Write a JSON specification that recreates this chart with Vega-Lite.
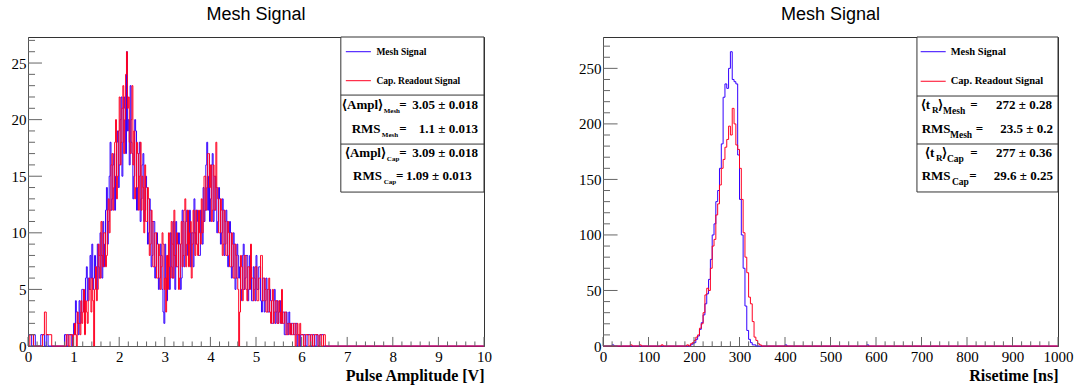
{
"$schema":"https://vega.github.io/schema/vega-lite/v6.json",
"background":"white",
"padding":{"left":10,"top":5,"right":5,"bottom":5},
"spacing":86,
"config":{
 "view":{"stroke":"#333","strokeWidth":1},
 "title":{"font":"Liberation Sans","fontSize":18,"fontWeight":"normal","color":"#000","anchor":"middle","offset":13},
 "axis":{"grid":false,"ticks":false,"labelFont":"Liberation Serif","labelFontSize":15,"labelColor":"#000","domainColor":"#555","titleFont":"Liberation Serif","titleFontWeight":"bold","titleFontSize":16,"titleColor":"#000","labelFlush":false,"labelOverlap":false,"labelPadding":2},
 "text":{"font":"Liberation Serif","fontWeight":"bold","fontSize":13,"baseline":"middle","align":"left","color":"#000"},
 "rule":{"color":"#333","strokeWidth":1}
},
"datasets":{
"lxmaj":[{"v":0},{"v":1},{"v":2},{"v":3},{"v":4},{"v":5},{"v":6},{"v":7},{"v":8},{"v":9},{"v":10}],
"lxmin":[{"v":0.2},{"v":0.4},{"v":0.6},{"v":0.8},{"v":1.2},{"v":1.4},{"v":1.6},{"v":1.8},{"v":2.2},{"v":2.4},{"v":2.6},{"v":2.8},{"v":3.2},{"v":3.4},{"v":3.6},{"v":3.8},{"v":4.2},{"v":4.4},{"v":4.6},{"v":4.8},{"v":5.2},{"v":5.4},{"v":5.6},{"v":5.8},{"v":6.2},{"v":6.4},{"v":6.6},{"v":6.8},{"v":7.2},{"v":7.4},{"v":7.6},{"v":7.8},{"v":8.2},{"v":8.4},{"v":8.6},{"v":8.8},{"v":9.2},{"v":9.4},{"v":9.6},{"v":9.8}],
"lymaj":[{"v":0},{"v":5},{"v":10},{"v":15},{"v":20},{"v":25}],
"lymin":[{"v":1},{"v":2},{"v":3},{"v":4},{"v":6},{"v":7},{"v":8},{"v":9},{"v":11},{"v":12},{"v":13},{"v":14},{"v":16},{"v":17},{"v":18},{"v":19},{"v":21},{"v":22},{"v":23},{"v":24},{"v":26},{"v":27}],
"rxmaj":[{"v":0},{"v":100},{"v":200},{"v":300},{"v":400},{"v":500},{"v":600},{"v":700},{"v":800},{"v":900},{"v":1000}],
"rxmin":[{"v":20},{"v":40},{"v":60},{"v":80},{"v":120},{"v":140},{"v":160},{"v":180},{"v":220},{"v":240},{"v":260},{"v":280},{"v":320},{"v":340},{"v":360},{"v":380},{"v":420},{"v":440},{"v":460},{"v":480},{"v":520},{"v":540},{"v":560},{"v":580},{"v":620},{"v":640},{"v":660},{"v":680},{"v":720},{"v":740},{"v":760},{"v":780},{"v":820},{"v":840},{"v":860},{"v":880},{"v":920},{"v":940},{"v":960},{"v":980}],
"rymaj":[{"v":0},{"v":50},{"v":100},{"v":150},{"v":200},{"v":250}],
"rymin":[{"v":10},{"v":20},{"v":30},{"v":40},{"v":60},{"v":70},{"v":80},{"v":90},{"v":110},{"v":120},{"v":130},{"v":140},{"v":160},{"v":170},{"v":180},{"v":190},{"v":210},{"v":220},{"v":230},{"v":240},{"v":260},{"v":270}],
"amp":[
{"x":0,"m":1,"c":0},{"x":0.04,"m":1,"c":1},{"x":0.08,"m":0,"c":1},{"x":0.12,"m":1,"c":0},{"x":0.16,"m":0,"c":0},{"x":0.2,"m":0,"c":0},{"x":0.24,"m":0,"c":0},{"x":0.28,"m":1,"c":0},{"x":0.32,"m":1,"c":1},{"x":0.36,"m":0,"c":3},
{"x":0.4,"m":1,"c":1},{"x":0.44,"m":0,"c":1},{"x":0.48,"m":0,"c":1},{"x":0.52,"m":0,"c":0},{"x":0.8,"m":1,"c":0},{"x":0.84,"m":0,"c":1},{"x":0.88,"m":1,"c":0},{"x":0.92,"m":1,"c":1},
{"x":0.96,"m":0,"c":1},{"x":0.98,"m":1,"c":0},{"x":1,"m":2,"c":1},{"x":1.02,"m":1,"c":2},{"x":1.04,"m":4,"c":1},{"x":1.06,"m":3,"c":0},{"x":1.08,"m":2,"c":3},{"x":1.1,"m":1,"c":2},{"x":1.12,"m":4,"c":2},{"x":1.14,"m":2,"c":1},
{"x":1.16,"m":3,"c":4},{"x":1.18,"m":5,"c":2},{"x":1.2,"m":5,"c":3},{"x":1.22,"m":3,"c":5},{"x":1.24,"m":4,"c":1},{"x":1.26,"m":6,"c":4},{"x":1.28,"m":7,"c":3},{"x":1.3,"m":4,"c":2},{"x":1.32,"m":6,"c":4},{"x":1.34,"m":5,"c":6},
{"x":1.36,"m":8,"c":5},{"x":1.38,"m":6,"c":3},{"x":1.4,"m":9,"c":6},{"x":1.42,"m":5,"c":4},{"x":1.44,"m":6,"c":0},{"x":1.46,"m":8,"c":5},{"x":1.48,"m":7,"c":7},{"x":1.5,"m":5,"c":4},{"x":1.52,"m":9,"c":5},{"x":1.54,"m":7,"c":9},
{"x":1.56,"m":6,"c":8},{"x":1.58,"m":10,"c":6},{"x":1.6,"m":8,"c":11},{"x":1.62,"m":6,"c":8},{"x":1.64,"m":11,"c":7},{"x":1.66,"m":7,"c":10},{"x":1.68,"m":9,"c":10},{"x":1.7,"m":12,"c":7},{"x":1.72,"m":14,"c":8},{"x":1.74,"m":9,"c":12},
{"x":1.76,"m":11,"c":13},{"x":1.78,"m":15,"c":10},{"x":1.8,"m":18,"c":12},{"x":1.82,"m":12,"c":16},{"x":1.84,"m":13,"c":17},{"x":1.86,"m":16,"c":12},{"x":1.88,"m":17,"c":14},{"x":1.9,"m":12,"c":18},{"x":1.92,"m":15,"c":20},{"x":1.94,"m":18,"c":13},
{"x":1.96,"m":19,"c":15},{"x":1.98,"m":14,"c":19},{"x":2,"m":16,"c":22},{"x":2.02,"m":20,"c":16},{"x":2.04,"m":22,"c":18},{"x":2.06,"m":15,"c":21},{"x":2.08,"m":18,"c":23},{"x":2.1,"m":22,"c":17},{"x":2.12,"m":21,"c":20},{"x":2.14,"m":17,"c":24},
{"x":2.16,"m":26,"c":26},{"x":2.18,"m":19,"c":21},{"x":2.2,"m":20,"c":22},{"x":2.22,"m":16,"c":18},{"x":2.24,"m":23,"c":17},{"x":2.26,"m":18,"c":20},{"x":2.28,"m":17,"c":23},{"x":2.3,"m":13,"c":16},{"x":2.32,"m":15,"c":19},{"x":2.34,"m":20,"c":13},
{"x":2.36,"m":19,"c":14},{"x":2.38,"m":12,"c":18},{"x":2.4,"m":14,"c":17},{"x":2.42,"m":17,"c":12},{"x":2.44,"m":18,"c":15},{"x":2.46,"m":11,"c":18},{"x":2.48,"m":13,"c":12},{"x":2.5,"m":16,"c":15},{"x":2.52,"m":17,"c":14},{"x":2.54,"m":11,"c":10},
{"x":2.56,"m":12,"c":16},{"x":2.58,"m":15,"c":11},{"x":2.6,"m":14,"c":11},{"x":2.62,"m":9,"c":14},{"x":2.64,"m":10,"c":13},{"x":2.66,"m":13,"c":8},{"x":2.68,"m":12,"c":9},{"x":2.7,"m":7,"c":12},{"x":2.72,"m":8,"c":11},{"x":2.74,"m":11,"c":7},
{"x":2.76,"m":11,"c":7},{"x":2.78,"m":6,"c":10},{"x":2.8,"m":7,"c":10},{"x":2.82,"m":10,"c":6},{"x":2.84,"m":9,"c":6},{"x":2.86,"m":5,"c":9},{"x":2.88,"m":6,"c":8},{"x":2.9,"m":9,"c":5},{"x":2.92,"m":8,"c":7},{"x":2.94,"m":5,"c":10},
{"x":2.96,"m":3,"c":9},{"x":2.98,"m":2,"c":5},{"x":3,"m":9,"c":6},{"x":3.02,"m":6,"c":3},{"x":3.04,"m":4,"c":8},{"x":3.06,"m":8,"c":5},{"x":3.08,"m":7,"c":10},{"x":3.1,"m":5,"c":7},{"x":3.12,"m":10,"c":6},{"x":3.14,"m":7,"c":11},
{"x":3.16,"m":6,"c":9},{"x":3.18,"m":11,"c":6},{"x":3.2,"m":8,"c":12},{"x":3.22,"m":5,"c":8},{"x":3.24,"m":11,"c":7},{"x":3.26,"m":7,"c":10},{"x":3.28,"m":7,"c":9},{"x":3.3,"m":10,"c":5},{"x":3.32,"m":9,"c":6},{"x":3.34,"m":5,"c":9},
{"x":3.36,"m":6,"c":11},{"x":3.38,"m":12,"c":7},{"x":3.4,"m":11,"c":8},{"x":3.42,"m":7,"c":12},{"x":3.44,"m":8,"c":13},{"x":3.46,"m":11,"c":7},{"x":3.48,"m":12,"c":9},{"x":3.5,"m":8,"c":12},{"x":3.52,"m":9,"c":7},{"x":3.54,"m":12,"c":10},
{"x":3.56,"m":7,"c":11},{"x":3.58,"m":10,"c":6},{"x":3.6,"m":10,"c":9},{"x":3.62,"m":7,"c":12},{"x":3.64,"m":13,"c":10},{"x":3.66,"m":10,"c":8},{"x":3.68,"m":9,"c":12},{"x":3.7,"m":12,"c":9},{"x":3.72,"m":11,"c":8},{"x":3.74,"m":8,"c":12},
{"x":3.76,"m":8,"c":10},{"x":3.78,"m":12,"c":9},{"x":3.8,"m":10,"c":13},{"x":3.82,"m":9,"c":10},{"x":3.84,"m":14,"c":11},{"x":3.86,"m":11,"c":15},{"x":3.88,"m":12,"c":15},{"x":3.9,"m":16,"c":12},{"x":3.92,"m":18,"c":14},{"x":3.94,"m":12,"c":17},
{"x":3.96,"m":15,"c":17},{"x":3.98,"m":11,"c":14},{"x":4,"m":13,"c":16},{"x":4.02,"m":16,"c":11},{"x":4.04,"m":17,"c":12},{"x":4.06,"m":11,"c":16},{"x":4.08,"m":12,"c":15},{"x":4.1,"m":15,"c":12},{"x":4.12,"m":14,"c":18},{"x":4.14,"m":10,"c":14},
{"x":4.16,"m":11,"c":13},{"x":4.18,"m":14,"c":10},{"x":4.2,"m":13,"c":10},{"x":4.22,"m":9,"c":13},{"x":4.24,"m":10,"c":12},{"x":4.26,"m":13,"c":8},{"x":4.28,"m":12,"c":9},{"x":4.3,"m":8,"c":12},{"x":4.32,"m":9,"c":11},{"x":4.34,"m":12,"c":8},
{"x":4.36,"m":11,"c":8},{"x":4.38,"m":7,"c":11},{"x":4.4,"m":8,"c":10},{"x":4.42,"m":11,"c":7},{"x":4.44,"m":10,"c":7},{"x":4.46,"m":6,"c":10},{"x":4.48,"m":7,"c":9},{"x":4.5,"m":10,"c":6},{"x":4.52,"m":9,"c":6},{"x":4.54,"m":5,"c":9},
{"x":4.56,"m":6,"c":8},{"x":4.58,"m":9,"c":6},{"x":4.6,"m":8,"c":5},{"x":4.62,"m":6,"c":0},{"x":4.64,"m":7,"c":3},{"x":4.66,"m":4,"c":8},{"x":4.68,"m":5,"c":7},{"x":4.7,"m":8,"c":4},{"x":4.72,"m":9,"c":5},{"x":4.74,"m":5,"c":8},
{"x":4.76,"m":6,"c":8},{"x":4.78,"m":8,"c":5},{"x":4.8,"m":8,"c":4},{"x":4.82,"m":4,"c":7},{"x":4.84,"m":5,"c":7},{"x":4.86,"m":8,"c":5},{"x":4.88,"m":7,"c":9},{"x":4.9,"m":4,"c":6},{"x":4.92,"m":4,"c":6},{"x":4.94,"m":7,"c":4},
{"x":4.96,"m":6,"c":5},{"x":4.98,"m":4,"c":7},{"x":5,"m":8,"c":7},{"x":5.02,"m":5,"c":4},{"x":5.04,"m":5,"c":4},{"x":5.06,"m":7,"c":6},{"x":5.08,"m":7,"c":6},{"x":5.1,"m":4,"c":8},{"x":5.12,"m":3,"c":8},{"x":5.14,"m":6,"c":4},
{"x":5.16,"m":6,"c":4},{"x":5.18,"m":3,"c":6},{"x":5.2,"m":4,"c":5},{"x":5.22,"m":6,"c":3},{"x":5.24,"m":5,"c":3},{"x":5.26,"m":3,"c":5},{"x":5.28,"m":3,"c":6},{"x":5.3,"m":5,"c":3},{"x":5.32,"m":4,"c":2},{"x":5.34,"m":2,"c":4},
{"x":5.36,"m":2,"c":5},{"x":5.38,"m":4,"c":2},{"x":5.4,"m":5,"c":3},{"x":5.42,"m":2,"c":4},{"x":5.44,"m":3,"c":4},{"x":5.46,"m":4,"c":2},{"x":5.48,"m":2,"c":2},{"x":5.5,"m":3,"c":4},{"x":5.52,"m":4,"c":3},{"x":5.54,"m":2,"c":2},
{"x":5.56,"m":2,"c":5},{"x":5.58,"m":3,"c":2},{"x":5.6,"m":3,"c":2},{"x":5.62,"m":1,"c":3},{"x":5.64,"m":1,"c":3},{"x":5.66,"m":3,"c":1},{"x":5.68,"m":2,"c":1},{"x":5.7,"m":1,"c":2},{"x":5.72,"m":3,"c":2},{"x":5.74,"m":2,"c":1},
{"x":5.76,"m":1,"c":2},{"x":5.78,"m":2,"c":1},{"x":5.8,"m":2,"c":1},{"x":5.82,"m":1,"c":2},{"x":5.84,"m":1,"c":2},{"x":5.86,"m":2,"c":0},{"x":5.88,"m":2,"c":1},{"x":5.9,"m":0,"c":2},{"x":5.92,"m":1,"c":1},{"x":5.94,"m":1,"c":0},
{"x":5.96,"m":0,"c":2},{"x":5.98,"m":1,"c":1},{"x":6,"m":1,"c":1},{"x":6.04,"m":1,"c":0},{"x":6.08,"m":0,"c":1},{"x":6.12,"m":1,"c":1},{"x":6.16,"m":1,"c":0},{"x":6.2,"m":0,"c":1},{"x":6.24,"m":1,"c":0},{"x":6.28,"m":0,"c":1},
{"x":6.32,"m":1,"c":1},{"x":6.36,"m":0,"c":0},{"x":6.4,"m":1,"c":1},{"x":6.44,"m":1,"c":0},{"x":6.48,"m":0,"c":1},{"x":6.52,"m":0,"c":0},{"x":10,"m":0,"c":0}
],
"rise":[
{"x":0,"m":0,"c":0},{"x":20,"m":1,"c":0},{"x":24,"m":0,"c":0},{"x":60,"m":0,"c":1},{"x":64,"m":0,"c":0},{"x":80,"m":0,"c":1},{"x":84,"m":0,"c":0},{"x":128,"m":0,"c":1},{"x":132,"m":0,"c":0},
{"x":184,"m":0,"c":1},{"x":188,"m":0,"c":0},{"x":192,"m":1,"c":2},{"x":196,"m":2,"c":3},{"x":200,"m":3,"c":5},{"x":204,"m":6,"c":8},{"x":208,"m":9,"c":10},{"x":212,"m":15,"c":16},{"x":216,"m":21,"c":20},{"x":220,"m":28,"c":30},
{"x":224,"m":38,"c":46},{"x":228,"m":47,"c":52},{"x":232,"m":60,"c":50},{"x":236,"m":78,"c":70},{"x":240,"m":100,"c":90},{"x":244,"m":110,"c":96},{"x":248,"m":130,"c":118},{"x":252,"m":140,"c":128},{"x":256,"m":160,"c":145},{"x":260,"m":182,"c":160},
{"x":264,"m":224,"c":168},{"x":268,"m":236,"c":179},{"x":272,"m":232,"c":186},{"x":276,"m":250,"c":198},{"x":280,"m":265,"c":190},{"x":284,"m":240,"c":214},{"x":288,"m":238,"c":200},{"x":292,"m":236,"c":181},{"x":296,"m":172,"c":177},{"x":300,"m":132,"c":160},
{"x":304,"m":100,"c":132},{"x":308,"m":70,"c":102},{"x":312,"m":36,"c":80},{"x":316,"m":14,"c":66},{"x":320,"m":6,"c":44},{"x":324,"m":3,"c":38},{"x":328,"m":1,"c":22},{"x":332,"m":1,"c":8},{"x":336,"m":0,"c":5},{"x":340,"m":0,"c":2},
{"x":344,"m":0,"c":1},{"x":348,"m":0,"c":0},{"x":400,"m":1,"c":0},{"x":404,"m":0,"c":0},{"x":580,"m":1,"c":0},{"x":584,"m":0,"c":0},{"x":1000,"m":0,"c":0}
]
},
"hconcat":[
{
 "width":456,"height":309,
 "title":"Mesh Signal",
 "layer":[
  {"data":{"name":"amp"},"mark":{"type":"line","interpolate":"step-after","color":"#3300ff","strokeWidth":1},
   "encoding":{
    "x":{"field":"x","type":"quantitative","scale":{"domain":[0,10],"nice":false,"zero":false},
     "axis":{"title":"Pulse Amplitude [V]","titleAnchor":"end","format":"d","values":[0,1,2,3,4,5,6,7,8,9,10],"labelPadding":3,"titlePadding":3}},
    "y":{"field":"m","type":"quantitative","scale":{"domain":[0,27.3],"nice":false},
     "axis":{"title":null,"values":[0,5,10,15,20,25]}}}},
  {"data":{"name":"amp"},"mark":{"type":"line","interpolate":"step-after","color":"#ff0022","strokeWidth":1},
   "encoding":{"x":{"field":"x","type":"quantitative"},"y":{"field":"c","type":"quantitative"}}},
  {"data":{"name":"lxmaj"},"mark":{"type":"rule","color":"#666"},"encoding":{"x":{"field":"v","type":"quantitative"},"y":{"datum":0},"y2":{"datum":0.8}}},
  {"data":{"name":"lxmin"},"mark":{"type":"rule","color":"#666"},"encoding":{"x":{"field":"v","type":"quantitative"},"y":{"datum":0},"y2":{"datum":0.4}}},
  {"data":{"name":"lymaj"},"mark":{"type":"rule","color":"#666"},"encoding":{"y":{"field":"v","type":"quantitative"},"x":{"datum":0},"x2":{"datum":0.307}}},
  {"data":{"name":"lymin"},"mark":{"type":"rule","color":"#666"},"encoding":{"y":{"field":"v","type":"quantitative"},"x":{"datum":0},"x2":{"datum":0.154}}},
  {"data":{"values":[{}]},"mark":{"type":"rect","fill":"white","stroke":"#333","strokeWidth":1},
   "encoding":{"x":{"datum":6.86},"x2":{"datum":10},"y":{"datum":13.6},"y2":{"datum":27.3}}},
  {"data":{"values":[{}]},"mark":{"type":"rule"},"encoding":{"x":{"datum":6.86},"x2":{"datum":10},"y":{"datum":22.17}}},
  {"data":{"values":[{}]},"mark":{"type":"rule"},"encoding":{"x":{"datum":6.86},"x2":{"datum":10},"y":{"datum":17.84}}},
  {"data":{"values":[{}]},"mark":{"type":"rule","color":"#3300ff"},"encoding":{"x":{"datum":6.97},"x2":{"datum":7.52},"y":{"datum":26.0}}},
  {"data":{"values":[{}]},"mark":{"type":"rule","color":"#ff0022"},"encoding":{"x":{"datum":6.97},"x2":{"datum":7.52},"y":{"datum":23.44}}},
  {"data":{"values":[{}]},"mark":{"type":"text","text":"Mesh Signal","fontSize":9.5},"encoding":{"x":{"datum":7.64},"y":{"datum":26.0}}},
  {"data":{"values":[{}]},"mark":{"type":"text","text":"Cap. Readout Signal","fontSize":9.5},"encoding":{"x":{"datum":7.64},"y":{"datum":23.44}}},
  {"data":{"values":[{}]},"mark":{"type":"text","text":"⟨Ampl⟩"},"encoding":{"x":{"datum":6.886},"y":{"datum":21.29}}},
  {"data":{"values":[{}]},"mark":{"type":"text","text":"Mesh","fontSize":7,"dy":6},"encoding":{"x":{"datum":7.8},"y":{"datum":21.29}}},
  {"data":{"values":[{}]},"mark":{"type":"text","text":"=","align":"center"},"encoding":{"x":{"datum":8.22},"y":{"datum":21.29}}},
  {"data":{"values":[{}]},"mark":{"type":"text","text":"3.05 ± 0.018","align":"right"},"encoding":{"x":{"datum":9.868},"y":{"datum":21.29}}},
  {"data":{"values":[{}]},"mark":{"type":"text","text":"RMS"},"encoding":{"x":{"datum":7.099},"y":{"datum":19.17}}},
  {"data":{"values":[{}]},"mark":{"type":"text","text":"Mesh","fontSize":7,"dy":6},"encoding":{"x":{"datum":7.76},"y":{"datum":19.17}}},
  {"data":{"values":[{}]},"mark":{"type":"text","text":"=","align":"center"},"encoding":{"x":{"datum":8.224},"y":{"datum":19.17}}},
  {"data":{"values":[{}]},"mark":{"type":"text","text":"1.1 ± 0.013","align":"right"},"encoding":{"x":{"datum":9.868},"y":{"datum":19.17}}},
  {"data":{"values":[{}]},"mark":{"type":"text","text":"⟨Ampl⟩"},"encoding":{"x":{"datum":6.95},"y":{"datum":17.05}}},
  {"data":{"values":[{}]},"mark":{"type":"text","text":"Cap","fontSize":7,"dy":6},"encoding":{"x":{"datum":7.87},"y":{"datum":17.05}}},
  {"data":{"values":[{}]},"mark":{"type":"text","text":"=","align":"center"},"encoding":{"x":{"datum":8.224},"y":{"datum":17.05}}},
  {"data":{"values":[{}]},"mark":{"type":"text","text":"3.09 ± 0.018","align":"right"},"encoding":{"x":{"datum":9.868},"y":{"datum":17.05}}},
  {"data":{"values":[{}]},"mark":{"type":"text","text":"RMS"},"encoding":{"x":{"datum":7.127},"y":{"datum":15.04}}},
  {"data":{"values":[{}]},"mark":{"type":"text","text":"Cap","fontSize":7,"dy":6},"encoding":{"x":{"datum":7.8},"y":{"datum":15.04}}},
  {"data":{"values":[{}]},"mark":{"type":"text","text":"=","align":"center"},"encoding":{"x":{"datum":8.15},"y":{"datum":15.04}}},
  {"data":{"values":[{}]},"mark":{"type":"text","text":"1.09 ± 0.013","align":"right"},"encoding":{"x":{"datum":9.73},"y":{"datum":15.04}}}
 ]
},
{
 "width":455,"height":309,
 "title":"Mesh Signal",
 "layer":[
  {"data":{"name":"rise"},"mark":{"type":"line","interpolate":"step-after","color":"#3300ff","strokeWidth":1},
   "encoding":{
    "x":{"field":"x","type":"quantitative","scale":{"domain":[0,1000],"nice":false,"zero":false},
     "axis":{"title":"Risetime [ns]","titleAnchor":"end","format":"d","values":[0,100,200,300,400,500,600,700,800,900,1000],"labelPadding":3,"titlePadding":3}},
    "y":{"field":"m","type":"quantitative","scale":{"domain":[0,278.25],"nice":false},
     "axis":{"title":null,"values":[0,50,100,150,200,250]}}}},
  {"data":{"name":"rise"},"mark":{"type":"line","interpolate":"step-after","color":"#ff0022","strokeWidth":1},
   "encoding":{"x":{"field":"x","type":"quantitative"},"y":{"field":"c","type":"quantitative"}}},
  {"data":{"name":"rxmaj"},"mark":{"type":"rule","color":"#666"},"encoding":{"x":{"field":"v","type":"quantitative"},"y":{"datum":0},"y2":{"datum":8.1}}},
  {"data":{"name":"rxmin"},"mark":{"type":"rule","color":"#666"},"encoding":{"x":{"field":"v","type":"quantitative"},"y":{"datum":0},"y2":{"datum":4.2}}},
  {"data":{"name":"rymaj"},"mark":{"type":"rule","color":"#666"},"encoding":{"y":{"field":"v","type":"quantitative"},"x":{"datum":0},"x2":{"datum":32}}},
  {"data":{"name":"rymin"},"mark":{"type":"rule","color":"#666"},"encoding":{"y":{"field":"v","type":"quantitative"},"x":{"datum":0},"x2":{"datum":15.4}}},
  {"data":{"values":[{}]},"mark":{"type":"rect","fill":"white","stroke":"#333","strokeWidth":1},
   "encoding":{"x":{"datum":690},"x2":{"datum":1000},"y":{"datum":138.7},"y2":{"datum":278.25}}},
  {"data":{"values":[{}]},"mark":{"type":"rule"},"encoding":{"x":{"datum":690},"x2":{"datum":1000},"y":{"datum":225.1}}},
  {"data":{"values":[{}]},"mark":{"type":"rule"},"encoding":{"x":{"datum":690},"x2":{"datum":1000},"y":{"datum":181.9}}},
  {"data":{"values":[{}]},"mark":{"type":"rule","color":"#3300ff"},"encoding":{"x":{"datum":698.2},"x2":{"datum":753.2},"y":{"datum":265.0}}},
  {"data":{"values":[{}]},"mark":{"type":"rule","color":"#ff0022"},"encoding":{"x":{"datum":698.2},"x2":{"datum":753.2},"y":{"datum":238.4}}},
  {"data":{"values":[{}]},"mark":{"type":"text","text":"Mesh Signal","fontSize":10.5},"encoding":{"x":{"datum":764.2},"y":{"datum":265.0}}},
  {"data":{"values":[{}]},"mark":{"type":"text","text":"Cap. Readout Signal","fontSize":10.5},"encoding":{"x":{"datum":764.2},"y":{"datum":238.4}}},
  {"data":{"values":[{}]},"mark":{"type":"text","text":"⟨t"},"encoding":{"x":{"datum":698.2},"y":{"datum":217.0}}},
  {"data":{"values":[{}]},"mark":{"type":"text","text":"R","fontSize":9,"dy":5},"encoding":{"x":{"datum":723},"y":{"datum":217.0}}},
  {"data":{"values":[{}]},"mark":{"type":"text","text":"⟩"},"encoding":{"x":{"datum":736.3},"y":{"datum":217.0}}},
  {"data":{"values":[{}]},"mark":{"type":"text","text":"Mesh","fontSize":9.5,"dy":6},"encoding":{"x":{"datum":747.3},"y":{"datum":217.0}}},
  {"data":{"values":[{}]},"mark":{"type":"text","text":"=","align":"center"},"encoding":{"x":{"datum":815.4},"y":{"datum":217.0}}},
  {"data":{"values":[{}]},"mark":{"type":"text","text":"272 ±  0.28","align":"right"},"encoding":{"x":{"datum":986.8},"y":{"datum":217.0}}},
  {"data":{"values":[{}]},"mark":{"type":"text","text":"RMS"},"encoding":{"x":{"datum":700.4},"y":{"datum":195.4}}},
  {"data":{"values":[{}]},"mark":{"type":"text","text":"Mesh","fontSize":9.5,"dy":6},"encoding":{"x":{"datum":762.6},"y":{"datum":195.4}}},
  {"data":{"values":[{}]},"mark":{"type":"text","text":"=","align":"center"},"encoding":{"x":{"datum":827.5},"y":{"datum":195.4}}},
  {"data":{"values":[{}]},"mark":{"type":"text","text":"23.5 ±   0.2","align":"right"},"encoding":{"x":{"datum":989},"y":{"datum":195.4}}},
  {"data":{"values":[{}]},"mark":{"type":"text","text":"⟨t"},"encoding":{"x":{"datum":707.7},"y":{"datum":173.8}}},
  {"data":{"values":[{}]},"mark":{"type":"text","text":"R","fontSize":9,"dy":5},"encoding":{"x":{"datum":732},"y":{"datum":173.8}}},
  {"data":{"values":[{}]},"mark":{"type":"text","text":"⟩"},"encoding":{"x":{"datum":745},"y":{"datum":173.8}}},
  {"data":{"values":[{}]},"mark":{"type":"text","text":"Cap","fontSize":9.5,"dy":6},"encoding":{"x":{"datum":756},"y":{"datum":173.8}}},
  {"data":{"values":[{}]},"mark":{"type":"text","text":"=","align":"center"},"encoding":{"x":{"datum":815.4},"y":{"datum":173.8}}},
  {"data":{"values":[{}]},"mark":{"type":"text","text":"277 ±  0.36","align":"right"},"encoding":{"x":{"datum":986.8},"y":{"datum":173.8}}},
  {"data":{"values":[{}]},"mark":{"type":"text","text":"RMS"},"encoding":{"x":{"datum":700.4},"y":{"datum":153.4}}},
  {"data":{"values":[{}]},"mark":{"type":"text","text":"Cap","fontSize":9.5,"dy":6},"encoding":{"x":{"datum":767},"y":{"datum":153.4}}},
  {"data":{"values":[{}]},"mark":{"type":"text","text":"=","align":"center"},"encoding":{"x":{"datum":813},"y":{"datum":153.4}}},
  {"data":{"values":[{}]},"mark":{"type":"text","text":"29.6 ±  0.25","align":"right"},"encoding":{"x":{"datum":989},"y":{"datum":153.4}}}
 ]
}
]
}
